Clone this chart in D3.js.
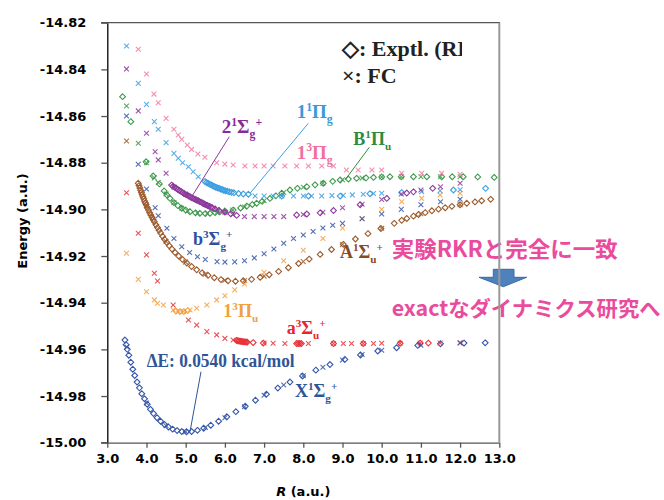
<!DOCTYPE html>
<html><head><meta charset="utf-8">
<script src="https://cdn.jsdelivr.net/npm/d3@7"></script>
<style>
body{margin:0;background:#fff;}
svg{display:block;}
</style></head>
<body>
<svg id="c" width="664" height="500"></svg>
<script>
// ---------- data ----------
const xTicks = [3,4,5,6,7,8,9,10,11,12,13];
const xTickLabels = ["3.0","4.0","5.0","6.0","7.0","8.0","9.0","10.0","11.0","12.0","13.0"];
const yTicks = [-14.82,-14.84,-14.86,-14.88,-14.90,-14.92,-14.94,-14.96,-14.98,-15.00];
const yTickLabels = ["-14.82","-14.84","-14.86","-14.88","-14.90","-14.92","-14.94","-14.96","-14.98","-15.00"];

// X1Σg+  (RKR diamonds, FC crosses)
const X_RKR = [[3.45,-14.9560],[3.48,-14.9580],[3.51,-14.9600],[3.55,-14.9625],[3.60,-14.9655],[3.65,-14.9685],[3.70,-14.9712],[3.76,-14.9740],[3.82,-14.9765],[3.88,-14.9790],[3.95,-14.9812],[4.02,-14.9835],[4.10,-14.9857],[4.18,-14.9875],[4.27,-14.9893],[4.36,-14.9908],[4.46,-14.9922],[4.56,-14.9933],[4.67,-14.9942],[4.78,-14.9948],[4.90,-14.9952],[5.02,-14.9953],[5.15,-14.9952],[5.30,-14.9947],[5.46,-14.9938],[5.64,-14.9925],[5.84,-14.9908],[6.05,-14.9889],[6.28,-14.9867],[6.52,-14.9844],[6.78,-14.9818],[7.06,-14.9792],[7.35,-14.9766],[7.66,-14.9740],[7.98,-14.9714],[8.32,-14.9689],[8.68,-14.9665],[9.06,-14.9643],[9.46,-14.9624],[9.90,-14.9607],[10.38,-14.9593],[10.92,-14.9583],[11.50,-14.9576],[12.10,-14.9573],[12.64,-14.9572]];
const X_FC = [[3.5,-14.9590],[4.0,-14.9830],[4.5,-14.9927],[5.0,-14.9953],[5.5,-14.9935],[6.0,-14.9893],[6.5,-14.9846],[7.0,-14.9797],[7.5,-14.9753],[8.0,-14.9713],[8.5,-14.9677],[9.0,-14.9646],[9.5,-14.9622],[10.0,-14.9604],[11.0,-14.9582],[12.0,-14.9573]];

// a3Σu+
const a_RKR = [[6.30,-14.9562],[6.33,-14.9563],[6.36,-14.9564],[6.39,-14.9565],[6.42,-14.9566],[6.45,-14.9567],[6.48,-14.9567],[6.51,-14.9568],[6.54,-14.9569],[6.57,-14.9569],[6.72,-14.9571],[6.98,-14.9573],[7.83,-14.9575],[7.87,-14.9575],[7.91,-14.9575],[7.95,-14.9575],[8.77,-14.9575],[9.53,-14.9575],[10.47,-14.9574],[10.98,-14.9573],[11.19,-14.9573]];
const a_FC = [[3.49,-14.8929],[3.79,-14.9102],[4.0,-14.9195],[4.2,-14.9274],[4.28,-14.9307],[4.68,-14.9410],[5.07,-14.9474],[5.28,-14.9496],[5.54,-14.9524],[5.79,-14.9538],[6.0,-14.9553],[6.21,-14.9560],[6.5,-14.9566],[7.0,-14.9573],[7.23,-14.9574],[7.53,-14.9575],[8.13,-14.9575],[8.77,-14.9575],[9.02,-14.9575],[9.23,-14.9575],[9.53,-14.9575],[9.79,-14.9575],[10.0,-14.9574],[10.47,-14.9574],[10.98,-14.9573],[11.49,-14.9573],[12.0,-14.9572]];

// 1³Πu
const b3Pu_RKR = [[4.75,-14.9436],[4.85,-14.9438],[4.95,-14.9438],[5.05,-14.9434]];
const b3Pu_FC = [[3.49,-14.9188],[3.79,-14.9300],[4.0,-14.9353],[4.2,-14.9388],[4.28,-14.9402],[4.43,-14.9410],[4.68,-14.9431],[4.81,-14.9438],[4.94,-14.9438],[5.11,-14.9431],[5.28,-14.9424],[5.54,-14.9410],[5.79,-14.9388],[6.0,-14.9370],[6.25,-14.9345],[6.5,-14.9320],[7.0,-14.9270],[7.5,-14.9220],[8.0,-14.9175],[8.5,-14.9125],[9.0,-14.9080],[9.5,-14.9040],[10.0,-14.9000],[10.51,-14.8967],[11.02,-14.8953],[11.49,-14.8938],[12.0,-14.8931]];

// A1Σu+
const A_RKR = [[3.79,-14.8888],[3.81,-14.8898],[3.83,-14.8908],[3.85,-14.8918],[3.87,-14.8928],[3.89,-14.8937],[3.91,-14.8946],[3.93,-14.8955],[3.95,-14.8964],[3.97,-14.8972],[3.99,-14.8980],[4.02,-14.8992],[4.05,-14.9003],[4.08,-14.9014],[4.11,-14.9024],[4.14,-14.9034],[4.17,-14.9044],[4.20,-14.9053],[4.24,-14.9066],[4.28,-14.9078],[4.32,-14.9090],[4.36,-14.9101],[4.41,-14.9115],[4.46,-14.9128],[4.52,-14.9142],[4.58,-14.9156],[4.65,-14.9170],[4.73,-14.9185],[4.82,-14.9200],[4.92,-14.9215],[5.03,-14.9230],[5.15,-14.9245],[5.28,-14.9259],[5.42,-14.9272],[5.57,-14.9283],[5.73,-14.9293],[5.90,-14.9301],[6.08,-14.9306],[6.27,-14.9308],[6.47,-14.9306],[6.68,-14.9300],[6.90,-14.9291],[7.13,-14.9280],[7.37,-14.9266],[7.62,-14.9250],[7.88,-14.9232],[8.15,-14.9213],[8.43,-14.9193],[8.72,-14.9172],[9.02,-14.9150],[9.33,-14.9127],[9.65,-14.9104],[9.98,-14.9082],[10.32,-14.9060],[10.51,-14.9047],[10.64,-14.9039],[10.81,-14.9029],[10.94,-14.9022],[11.11,-14.9014],[11.28,-14.9006],[11.45,-14.8999],[11.62,-14.8993],[11.79,-14.8987],[12.0,-14.8980],[12.17,-14.8974],[12.38,-14.8968],[12.55,-14.8963],[12.78,-14.8957]];
const A_FC = [[3.49,-14.8707],[4.0,-14.8985],[4.5,-14.9138],[5.0,-14.9226],[5.5,-14.9278],[6.0,-14.9304],[6.5,-14.9305],[7.0,-14.9286],[8.0,-14.9224],[9.0,-14.9151],[10.0,-14.9081],[11.0,-14.9019],[12.0,-14.8980]];

// b3Σg+ (1³Σg+)
const b_FC = [[3.49,-14.8600],[3.79,-14.8807],[4.0,-14.8913],[4.22,-14.8993],[4.3,-14.9027],[4.52,-14.9081],[4.7,-14.9125],[4.9,-14.9160],[5.1,-14.9185],[5.3,-14.9203],[5.5,-14.9215],[5.8,-14.9224],[6.0,-14.9226],[6.25,-14.9225],[6.5,-14.9220],[6.75,-14.9208],[7.0,-14.9190],[7.25,-14.9170],[7.5,-14.9145],[7.75,-14.9125],[8.0,-14.9110],[8.25,-14.9095],[8.5,-14.9080],[8.75,-14.9068],[9.0,-14.9060],[9.5,-14.9040],[10.0,-14.9020],[10.5,-14.9000],[11.0,-14.8980],[11.5,-14.8967],[12.0,-14.8957]];

// B1Πu
const B_RKR = [[3.39,-14.8517],[3.6,-14.8624],[3.99,-14.8796],[4.17,-14.8857],[4.33,-14.8891],[4.45,-14.8921],[4.52,-14.8938],[4.6,-14.8953],[4.7,-14.8971],[4.8,-14.8984],[4.9,-14.8995],[5.0,-14.9003],[5.11,-14.9010],[5.25,-14.9015],[5.36,-14.9017],[5.5,-14.9018],[5.62,-14.9017],[5.75,-14.9014],[5.87,-14.9010],[6.0,-14.9007],[6.21,-14.9003],[6.4,-14.8994],[6.56,-14.8986],[6.7,-14.8979],[6.81,-14.8974],[6.95,-14.8966],[7.15,-14.8953],[7.3,-14.8942],[7.45,-14.8931],[7.66,-14.8917],[7.85,-14.8910],[8.09,-14.8903],[8.3,-14.8895],[8.51,-14.8888],[8.75,-14.8880],[8.94,-14.8874],[9.15,-14.8870],[9.36,-14.8867],[9.6,-14.8865],[9.79,-14.8863],[10.0,-14.8861],[10.21,-14.8860],[10.5,-14.8860],[10.81,-14.8860],[11.15,-14.8860],[11.53,-14.8860],[11.8,-14.8860],[12.08,-14.8860],[12.45,-14.8861],[12.87,-14.8863]];
const B_FC = [[3.49,-14.8557],[3.79,-14.8717],[4.0,-14.8800],[4.2,-14.8865],[4.3,-14.8885],[4.5,-14.8934],[4.7,-14.8971],[4.9,-14.8995],[5.05,-14.9007],[5.3,-14.9016],[5.55,-14.9018],[5.8,-14.9013],[6.2,-14.9003],[6.5,-14.8990],[7.0,-14.8963],[7.5,-14.8928],[8.0,-14.8905],[8.5,-14.8888],[9.0,-14.8873],[9.5,-14.8866],[10.0,-14.8861],[10.5,-14.8860],[11.0,-14.8860],[11.5,-14.8860],[12.0,-14.8860]];

// 2¹Σg+
const E_RKR = [[4.64,-14.8896],[4.68,-14.8901],[4.72,-14.8906],[4.76,-14.8910],[4.80,-14.8915],[4.84,-14.8919],[4.88,-14.8923],[4.92,-14.8928],[4.96,-14.8932],[5.00,-14.8936],[5.04,-14.8939],[5.08,-14.8943],[5.12,-14.8947],[5.16,-14.8950],[5.20,-14.8954],[5.24,-14.8957],[5.28,-14.8960],[5.32,-14.8963],[5.36,-14.8967],[5.40,-14.8970],[5.44,-14.8974],[5.48,-14.8977],[5.52,-14.8981],[5.56,-14.8984],[5.60,-14.8987],[5.64,-14.8990],[5.68,-14.8993],[5.75,-14.8998],[5.85,-14.9005],[6.0,-14.9012],[6.15,-14.9019],[6.3,-14.9026],[7.83,-14.9024],[8.09,-14.9020],[8.43,-14.9015],[8.77,-14.9005],[9.45,-14.8980],[10.13,-14.8953],[10.64,-14.8930],[10.81,-14.8925],[11.3,-14.8910]];
const E_FC = [[3.49,-14.8398],[3.79,-14.8578],[4.0,-14.8674],[4.22,-14.8753],[4.3,-14.8788],[4.5,-14.8845],[4.7,-14.8904],[5.0,-14.8935],[5.3,-14.8962],[5.5,-14.8979],[5.8,-14.9001],[6.0,-14.9012],[6.2,-14.9022],[6.5,-14.9031],[6.75,-14.9031],[7.0,-14.9031],[7.25,-14.9031],[7.5,-14.9031],[8.0,-14.9022],[8.5,-14.9012],[9.0,-14.8993],[9.5,-14.8978],[10.0,-14.8958],[10.5,-14.8934],[11.0,-14.8917],[11.5,-14.8903],[12.0,-14.8888]];

// 1¹Πg
const Pg1_RKR = [[5.49,-14.8881],[5.53,-14.8885],[5.57,-14.8888],[5.61,-14.8892],[5.65,-14.8895],[5.69,-14.8899],[5.73,-14.8902],[5.77,-14.8905],[5.81,-14.8908],[5.85,-14.8910],[5.89,-14.8913],[5.93,-14.8915],[5.97,-14.8918],[6.01,-14.8920],[6.06,-14.8922],[6.11,-14.8925],[6.17,-14.8927],[6.23,-14.8929],[6.35,-14.8932],[6.47,-14.8934],[6.6,-14.8935],[7.45,-14.8943],[8.13,-14.8943],[8.94,-14.8943],[9.7,-14.8933],[10.51,-14.8928],[11.83,-14.8917],[12.65,-14.8910]];
const Pg1_FC = [[3.49,-14.8300],[3.79,-14.8460],[4.0,-14.8550],[4.2,-14.8624],[4.3,-14.8657],[4.5,-14.8714],[4.7,-14.8760],[4.81,-14.8781],[4.92,-14.8800],[5.07,-14.8817],[5.19,-14.8839],[5.32,-14.8860],[6.77,-14.8943],[7.0,-14.8943],[7.23,-14.8943],[7.45,-14.8943],[7.75,-14.8943],[8.0,-14.8943],[8.21,-14.8943],[8.47,-14.8943],[8.73,-14.8941],[9.02,-14.8940],[9.25,-14.8938],[9.53,-14.8935],[9.79,-14.8932],[10.0,-14.8931],[11.02,-14.8924],[11.49,-14.8920],[12.0,-14.8916]];

// 1³Πg
const Pg3_FC = [[3.79,-14.8314],[4.0,-14.8420],[4.19,-14.8506],[4.3,-14.8543],[4.5,-14.8610],[4.7,-14.8657],[4.81,-14.8681],[4.9,-14.8700],[5.04,-14.8724],[5.15,-14.8743],[5.31,-14.8763],[5.49,-14.8777],[5.79,-14.8800],[6.0,-14.8806],[6.21,-14.8810],[6.51,-14.8814],[6.77,-14.8814],[7.0,-14.8814],[7.23,-14.8814],[7.53,-14.8814],[7.83,-14.8814],[8.13,-14.8814],[8.47,-14.8814],[8.77,-14.8814],[9.1,-14.8831],[9.4,-14.8831],[9.75,-14.8831],[10.0,-14.8831],[10.51,-14.8845],[11.02,-14.8845],[11.53,-14.8845],[12.0,-14.8850]];

const series = [
  {rkr:A_RKR, fc:A_FC, color:"#9b5a2c"},
  {rkr:b3Pu_RKR, fc:b3Pu_FC, color:"#f5a040"},
  {rkr:[], fc:b_FC, color:"#3556a8"},
  {rkr:B_RKR, fc:B_FC, color:"#3e9a4c"},
  {rkr:[], fc:Pg3_FC, color:"#f27aa3"},
  {rkr:Pg1_RKR, fc:Pg1_FC, color:"#3d9fe0"},
  {rkr:E_RKR, fc:E_FC, color:"#8c3a9c"},
  {rkr:a_RKR, fc:a_FC, color:"#e8343c"},
  {rkr:X_RKR, fc:X_FC, color:"#3556a8"}
];

// ---------- drawing ----------
const svg = d3.select("#c");
const x = d3.scaleLinear().domain([3,13]).range([107.3,499.3]);
const y = d3.scaleLinear().domain([-15.0,-14.82]).range([442.7,22.7]);

const axisFont = "'DejaVu Sans', sans-serif";
const serif = "'Liberation Serif','Times New Roman',serif";

// frame top
svg.append("line").attr("x1",101).attr("x2",x(13)+0.7).attr("y1",y(-14.82)).attr("y2",y(-14.82))
  .attr("stroke","#555").attr("stroke-width",1.3);

// axes
const ya = svg.append("g").attr("transform",`translate(${x(3)},0)`)
  .call(d3.axisLeft(y).tickValues(yTicks).tickSize(6).tickSizeOuter(0).tickFormat((d,i)=>yTickLabels[i]));
ya.select(".domain").attr("stroke","#000").attr("stroke-width",1.3);
ya.selectAll(".tick line").attr("stroke","#555").attr("stroke-width",1.3);
ya.selectAll(".tick text").attr("font-family",axisFont).attr("font-weight","bold").attr("font-size",13).attr("fill","#000").attr("x",-21);

const xa = svg.append("g").attr("transform",`translate(0,${y(-15)})`)
  .call(d3.axisBottom(x).tickValues(xTicks).tickSize(5).tickSizeOuter(0).tickFormat((d,i)=>xTickLabels[i]));
xa.select(".domain").attr("stroke","#555").attr("stroke-width",1.3);
xa.selectAll(".tick line").attr("stroke","#555").attr("stroke-width",1.3);
xa.selectAll(".tick text").attr("font-family",axisFont).attr("font-weight","bold").attr("font-size",13).attr("fill","#000").attr("y",11);
svg.append("line").attr("x1",101).attr("x2",x(3)).attr("y1",y(-15)).attr("y2",y(-15)).attr("stroke","#555").attr("stroke-width",1.3);

svg.append("text").attr("transform","translate(22,221) rotate(-90)").attr("text-anchor","middle")
  .attr("dominant-baseline","central").attr("font-family",axisFont).attr("font-weight","bold").attr("font-size",13).text("Energy (a.u.)");
const xt = svg.append("text").attr("x",x(8)).attr("y",496).attr("text-anchor","middle")
  .attr("font-family",axisFont).attr("font-weight","bold").attr("font-size",13);
xt.append("tspan").attr("font-style","italic").text("R");
xt.append("tspan").text(" (a.u.)");

// markers
const diamond = "M0,-2.9L2.9,0L0,2.9L-2.9,0Z";
const cross = "M-2.4,-2.4L2.4,2.4M-2.4,2.4L2.4,-2.4";
const plot = svg.append("g");
series.forEach(s=>{
  const g = plot.append("g");
  g.selectAll("path.r").data(s.rkr).join("path").attr("class","r")
    .attr("transform",d=>`translate(${x(d[0])},${y(d[1])})`).attr("d",diamond)
    .attr("fill","none").attr("stroke",s.color).attr("stroke-width",1.1);
});
series.forEach(s=>{
  const g = plot.append("g");
  g.selectAll("path.f").data(s.fc).join("path").attr("class","f")
    .attr("transform",d=>`translate(${x(d[0])},${y(d[1])})`).attr("d",cross)
    .attr("fill","none").attr("stroke",s.color).attr("stroke-width",1.1).attr("opacity",0.85);
});

// labels
function label(px,py,parts,color,size){
  const t = svg.append("text").attr("x",px).attr("y",py).attr("font-family",serif)
    .attr("font-weight","bold").attr("font-size",size).attr("fill",color);
  let cur = 0;
  parts.forEach(p=>{
    const target = p[1]===1 ? -size*0.38 : (p[1]===-1 ? size*0.28 : 0);
    t.append("tspan").attr("dy",target-cur).attr("font-size",p[1]===0?size:size*0.62).text(p[0]);
    cur = target;
  });
  return t;
}
function leader(x1,y1,x2,y2,color){
  svg.append("line").attr("x1",x1).attr("y1",y1).attr("x2",x2).attr("y2",y2).attr("stroke",color).attr("stroke-width",1);
}
leader(229.3,136.7,191.7,196.7,"#8c3a9c");
leader(308.3,123.3,250,193.3,"#3d9fe0");
leader(369.3,147.3,345,180,"#2e8b3e");
leader(201,371.7,190,431.7,"#2f5597");

label(221.7,133,[["2",0],["1",1],["Σ",0],["g",-1],["+",1]],"#8a2a9a",19);
label(296.7,118,[["1",0],["1",1],["Π",0],["g",-1]],"#3a9ad9",19);
label(296.7,158.5,[["1",0],["3",1],["Π",0],["g",-1]],"#f06fa0",19);
label(353.3,145,[["B",0],["1",1],["Π",0],["u",-1]],"#2e8b3e",18);
label(193,245,[["b",0],["3",1],["Σ",0],["g",-1],["+",1]],"#2f4fa0",18);
label(340,258,[["A",0],["1",1],["Σ",0],["u",-1],["+",1]],"#8a4a20",18);
label(223.3,317,[["1",0],["3",1],["Π",0],["u",-1]],"#f0a040",18);
label(286.7,333.5,[["a",0],["3",1],["Σ",0],["u",-1],["+",1]],"#e8262e",18);
svg.append("text").attr("x",146.7).attr("y",367).attr("font-family",serif).attr("font-weight","bold")
  .attr("font-size",18).attr("fill","#2f5597").attr("textLength",148).attr("lengthAdjust","spacingAndGlyphs")
  .text("ΔE: 0.0540 kcal/mol");
label(295,397,[["X",0],["1",1],["Σ",0],["g",-1],["+",1]],"#2f5597",18);

// legend (clipped by its text box)
svg.append("clipPath").attr("id","clipL").append("rect").attr("x",0).attr("y",0).attr("width",462).attr("height",500);
const lg = svg.append("g").attr("clip-path","url(#clipL)");
lg.append("text").attr("x",342).attr("y",55.5).attr("font-family",serif).attr("font-weight","bold").attr("font-size",22).attr("fill","#222").text("◇: Exptl. (RKR)");
lg.append("text").attr("x",342).attr("y",83).attr("font-family",serif).attr("font-weight","bold").attr("font-size",22).attr("fill","#222").text("×: FC");

// Japanese annotation
const jp = "'Noto Sans CJK JP','Noto Sans',sans-serif";
svg.append("text").attr("x",391.7).attr("y",257).attr("font-family",jp).attr("font-weight","bold")
  .attr("font-size",22).attr("fill","#ea4b9d").attr("textLength",226).attr("lengthAdjust","spacingAndGlyphs")
  .text("実験RKRと完全に一致");
svg.append("path").attr("d","M493.3,269.3L514,269.3L514,277.3L526.7,277.3L503.3,286.7L479,277.3L493.3,277.3Z")
  .attr("fill","#4f81bd").attr("stroke","#3a6aa0").attr("stroke-width",1);
svg.append("text").attr("x",391.7).attr("y",316).attr("font-family",jp).attr("font-weight","bold")
  .attr("font-size",21).attr("fill","#ea4b9d").attr("textLength",269).attr("lengthAdjust","spacingAndGlyphs")
  .text("exactなダイナミクス研究へ");

// right frame line (drawn on top)
svg.append("line").attr("x1",x(13)).attr("x2",x(13)).attr("y1",y(-14.82)).attr("y2",y(-15))
  .attr("stroke","#999").attr("stroke-width",2);
</script>
</body></html>
